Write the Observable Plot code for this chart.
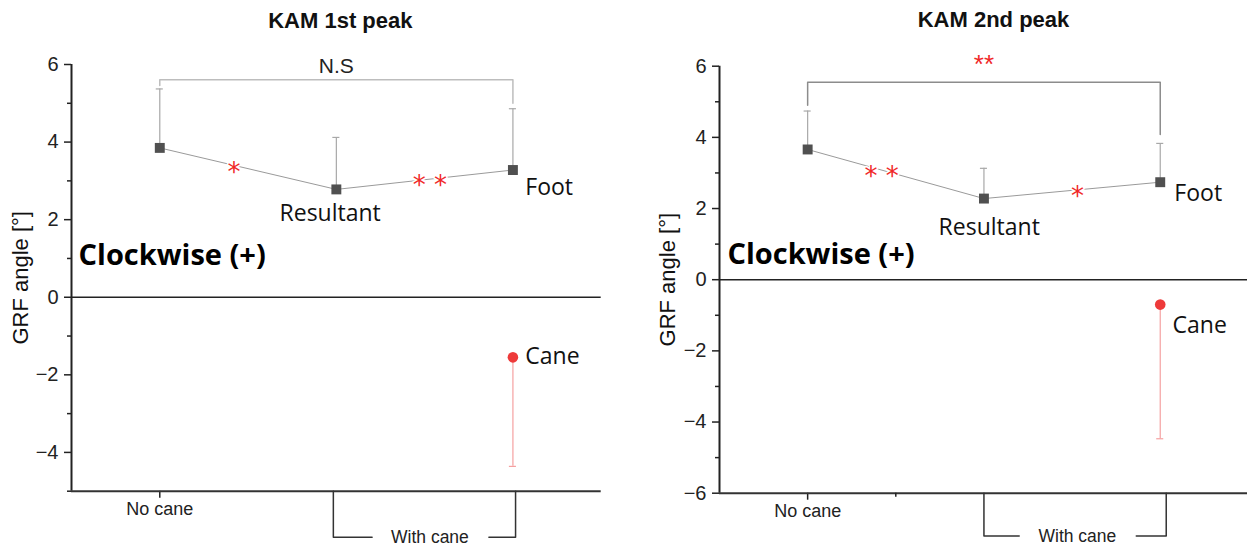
<!DOCTYPE html>
<html><head><meta charset="utf-8">
<script src="https://cdn.jsdelivr.net/npm/d3@7"></script>
<script src="https://cdn.jsdelivr.net/npm/@observablehq/plot@0.6"></script>
<style>
body{margin:0;background:#fff;}
#wrap{display:flex;width:1247px;height:547px;overflow:hidden;}
</style></head><body><div id="wrap"></div>
<script>
// ---- data ----
const conditions = ["No cane", "Resultant", "Foot"];
const peak1Mean = [3.85, 2.78, 3.28];
const peak1SD = [1.52, 1.34, 1.58];
const peak1Cane = [-1.55];
const peak1CaneSD = [2.81];
const peak2Mean = [3.66, 2.28, 2.74];
const peak2SD = [1.08, 0.85, 1.09];
const peak2Cane = [-0.70];
const peak2CaneSD = [3.77];
const peak1Sig = ["*", "* *"];
const peak1Overall = ["N.S"];
const peak2Sig = ["* *", "*"];
const peak2Overall = ["**"];
const yTicks1 = [-4, -2, 0, 2, 4, 6];
const yTicks2 = [-6, -4, -2, 0, 2, 4, 6];
const xTickLabels = ["No cane"];
const groupLabel = ["With cane"];
const caneLabel = ["Cane"];
const directionLabel = ["Clockwise (+)"];
const yAxisLabel = ["GRF angle [°]"];
const titles = ["KAM 1st peak", "KAM 2nd peak"];

const RED = "#f02828";
const LABEL_FONT = "'Open Sans', 'Noto Sans', sans-serif";

function panel(o) {
  const pts = conditions.map((c, i) => ({c, x: i + 1, m: o.mean[i], s: o.sd[i]}));
  const cane = [{x: 3, m: o.cane[0], s: o.caneSD[0]}];
  const cap = 0.02;
  const [y0, y1] = o.yDomain;
  const minor = d3.range(y0, y1 + 1).filter(v => Math.abs(v % 2) === 1);
  const stars = o.sig.map((t, i) => {
    const xs = o.starX[i], a = o.mean[i], b = o.mean[i + 1];
    return {t, x: xs, y: a + (b - a) * (xs - (i + 1))};
  });
  const br = o.bracket, bb = o.bottom;
  const marks = [
    Plot.axisY({ticks: o.yTicks, tickSize: 7, tickPadding: 6, label: null, color: "#222", strokeWidth: 1.5, fontSize: 20}),
    Plot.axisY({ticks: minor, tickSize: 4, tickFormat: () => "", label: null, color: "#222", strokeWidth: 1.5}),
    Plot.axisX({ticks: [1], tickFormat: () => xTickLabels[0], tickSize: 7, tickPadding: 4, label: null, color: "#222", strokeWidth: 1.5, fontSize: 18}),
    Plot.ruleX([0.5], {y1: y0, y2: y1, stroke: "#222", strokeWidth: 2}),
    Plot.ruleY([y0], {stroke: "#333", strokeWidth: 2}),
    Plot.ruleY([0], {stroke: "#222", strokeWidth: 1.5}),
    // bottom group bracket
    Plot.line([[bb.l, y0], [bb.l, bb.y], [bb.s1, bb.y]], {x: d => d[0], y: d => d[1], stroke: "#333", strokeWidth: 1.5}),
    Plot.line([[bb.s2, bb.y], [bb.r, bb.y], [bb.r, y0]], {x: d => d[0], y: d => d[1], stroke: "#333", strokeWidth: 1.5}),
    Plot.text(groupLabel, {x: bb.tx, y: bb.y, fontSize: 17.5, fill: "#222"}),
    // top bracket
    Plot.line([[1, br.l], [1, br.y], [3, br.y], [3, br.r]], {x: d => d[0], y: d => d[1], stroke: br.color, strokeWidth: 1.5}),
    Plot.text(o.overall, {x: 2, y: br.ty, fontSize: br.fs, fill: br.fill, dy: br.dy, fontFamily: br.ff}),
    // series
    Plot.line(pts, {x: "x", y: "m", stroke: "#9a9a9a", strokeWidth: 1}),
    Plot.ruleX(pts, {x: "x", y1: "m", y2: d => d.m + d.s, stroke: "#a8a8a8", strokeWidth: 1.2}),
    Plot.ruleY(pts, {y: d => d.m + d.s, x1: d => d.x - cap, x2: d => d.x + cap, stroke: "#a8a8a8", strokeWidth: 1.2}),
    Plot.text(stars, {x: "x", y: "y", text: "t", fill: RED, fontSize: 26, dy: 7, stroke: "white", strokeWidth: 3, paintOrder: "stroke", fontFamily: "'DejaVu Sans', sans-serif"}),
    Plot.dot(pts, {x: "x", y: "m", symbol: "square", r: 5.6, fill: "#505050"}),
    Plot.ruleX(cane, {x: "x", y1: "m", y2: d => d.m - d.s, stroke: "#f5a0a0", strokeWidth: 1.2}),
    Plot.ruleY(cane, {y: d => d.m - d.s, x1: d => d.x - cap, x2: d => d.x + cap, stroke: "#f5a0a0", strokeWidth: 1.2}),
    Plot.dot(cane, {x: "x", y: "m", r: 5.3, fill: "#ee3a3a"}),
    // labels
    Plot.text([conditions[1]], {x: o.lab.res[0], y: o.lab.res[1], fontSize: 23, fontFamily: LABEL_FONT, fill: "#111"}),
    Plot.text([conditions[2]], {x: o.lab.foot[0], y: o.lab.foot[1], fontSize: 23, textAnchor: "start", fontFamily: LABEL_FONT, fill: "#111"}),
    Plot.text(caneLabel, {x: o.lab.cane[0], y: o.lab.cane[1], fontSize: 23, textAnchor: "start", fontFamily: LABEL_FONT, fill: "#111"}),
    Plot.text(directionLabel, {x: o.lab.cw[0], y: o.lab.cw[1], fontSize: 29, fontWeight: "bold", textAnchor: "start", fontFamily: LABEL_FONT, fill: "#000"}),
    // title & y label
    Plot.text([o.title], {frameAnchor: "top", lineAnchor: "middle", textAnchor: "middle", dx: o.titleDx, dy: o.titleDy, fontSize: 22, fontWeight: "bold", fill: "#111"}),
    Plot.text(yAxisLabel, {frameAnchor: "left", textAnchor: "middle", lineAnchor: "middle", rotate: -90, dx: o.ylabDx, fontSize: 22, fill: "#111"})
  ];
  if (o.minorX) marks.push(Plot.axisX({ticks: o.minorX, tickSize: 4, tickFormat: () => "", label: null, color: "#222", strokeWidth: 1.5}));
  return Plot.plot({
    width: o.width, height: 547,
    marginLeft: o.ml, marginRight: o.mr, marginTop: o.mt, marginBottom: o.mb,
    x: {domain: [0.5, o.xMax], axis: null},
    y: {domain: o.yDomain, axis: null},
    style: {fontFamily: "'Liberation Sans', Arial, sans-serif", fontSize: "20px", background: "#fff", overflow: "visible"},
    marks
  });
}

const wrap = document.getElementById("wrap");
wrap.appendChild(panel({
  title: titles[0], mean: peak1Mean, sd: peak1SD, cane: peak1Cane, caneSD: peak1CaneSD,
  sig: peak1Sig, overall: peak1Overall, yTicks: yTicks1, yDomain: [-5, 6],
  width: 625, ml: 71, mr: 24.3, mt: 64, mb: 56.3, xMax: 3.5,
  starX: [1.42, 2.53],
  bracket: {y: 5.61, l: 5.46, r: 5.0, ty: 5.95, fs: 21, fill: "#222", dy: 0, color: "#bdbdbd"},
  bottom: {y: -6.19, l: 1.983, s1: 2.2025, s2: 2.864, r: 3.015, tx: 2.53},
  lab: {res: [1.965, 2.16], foot: [3.07, 2.83], cane: [3.07, -1.53], cw: [0.54, 1.07]},
  titleDx: 4, titleDy: -44, ylabDx: -51
}));
wrap.appendChild(panel({
  title: titles[1], mean: peak2Mean, sd: peak2SD, cane: peak2Cane, caneSD: peak2CaneSD,
  sig: peak2Sig, overall: peak2Overall, yTicks: yTicks2, yDomain: [-6, 6],
  width: 622, ml: 94, mr: 0, mt: 65.7, mb: 54.3, xMax: 3.495,
  starX: [1.42, 2.53], minorX: [1.5],
  bracket: {y: 5.55, l: 4.9, r: 4.08, ty: 6.2, fs: 26, fill: RED, dy: 6, color: "#8c8c8c", ff: "'Liberation Sans', Arial, sans-serif"},
  bottom: {y: -7.2, l: 2.0, s1: 2.2, s2: 2.864, r: 3.034, tx: 2.53},
  lab: {res: [2.03, 1.46], foot: [3.08, 2.42], cane: [3.07, -1.30], cw: [0.545, 0.70]},
  titleDx: 10, titleDy: -46, ylabDx: -52
}));
</script></body></html>
